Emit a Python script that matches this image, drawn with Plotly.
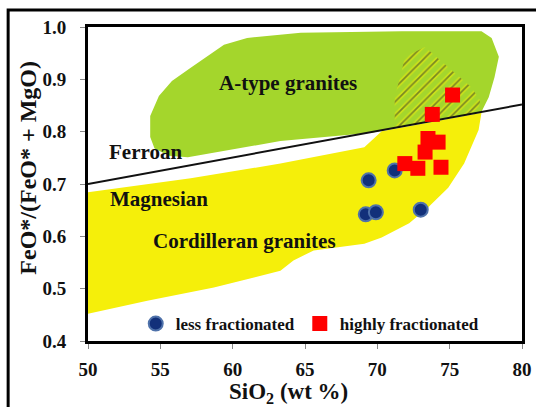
import plotly.graph_objects as go

# --- sample data: SiO2 (wt %) vs FeO*/(FeO* + MgO) ---
less_sio2 = [71.2, 69.4, 69.2, 69.9, 73.0]
less_fe = [0.726, 0.707, 0.642, 0.646, 0.651]

high_sio2 = [75.2, 73.8, 73.5, 74.2, 73.3, 71.9, 72.8, 74.4]
high_fe = [0.870, 0.833, 0.787, 0.780, 0.761, 0.739, 0.730, 0.732]

# Ferroan / magnesian boundary line
boundary_sio2 = [50, 80]
boundary_fe = [0.700, 0.852]

# A-type granite field
atype_sio2 = [54.3, 54.3, 54.9, 55.8, 57.1, 59.4, 61.0, 64.7, 71.7, 77.2, 77.9,
              78.4, 78.1, 77.7, 77.2, 69.6, 63.3, 56.9, 55.6, 54.6, 54.3]
atype_fe = [0.790, 0.830, 0.868, 0.897, 0.922, 0.966, 0.979, 0.989, 0.992, 0.992,
            0.979, 0.943, 0.904, 0.866, 0.838, 0.798, 0.782, 0.751, 0.754, 0.768, 0.790]

# Cordilleran granite field
cord_sio2 = [50.0, 57.1, 63.3, 69.1, 70.3, 77.2, 77.0, 76.0, 74.9, 73.5, 72.2,
             70.3, 69.1, 65.6, 64.2, 63.3, 58.7, 54.1, 50.0, 50.0]
cord_fe = [0.684, 0.711, 0.739, 0.770, 0.801, 0.836, 0.803, 0.739, 0.693, 0.655,
           0.625, 0.598, 0.586, 0.573, 0.554, 0.534, 0.502, 0.477, 0.452, 0.684]

# overlap (hatched) field
hatch_sio2 = [71.9, 73.3, 74.9, 76.5, 77.1, 77.0, 71.2, 71.2, 71.7, 71.9]
hatch_fe = [0.943, 0.962, 0.923, 0.885, 0.860, 0.835, 0.808, 0.866, 0.918, 0.943]

# field labels
label_text = ["A-type granites", "Ferroan", "Magnesian", "Cordilleran granites"]
label_sio2 = [63.8, 54.0, 54.9, 60.8]
label_fe = [0.893, 0.762, 0.672, 0.592]

x_ticks = [50, 55, 60, 65, 70, 75, 80]
y_ticks = [0.4, 0.5, 0.6, 0.7, 0.8, 0.9, 1.0]

SERIF = "Liberation Serif"
INK = "#111111"
GREEN = "#a4d62c"
YELLOW = "#f5ef0a"

fig = go.Figure()

fig.add_trace(go.Scatter(x=cord_sio2, y=cord_fe, mode="lines", fill="toself",
                         fillcolor=YELLOW, line=dict(width=0, color=YELLOW),
                         hoverinfo="skip", showlegend=False))
fig.add_trace(go.Scatter(x=atype_sio2, y=atype_fe, mode="lines", fill="toself",
                         fillcolor=GREEN, line=dict(width=0, color=GREEN),
                         hoverinfo="skip", showlegend=False))
# hatched overlap: wide yellow stripes, then thin dark stripes
fig.add_trace(go.Scatter(x=hatch_sio2, y=hatch_fe, mode="lines", fill="toself",
                         fillcolor="rgba(0,0,0,0)", line=dict(width=0),
                         fillpattern=dict(shape="/", size=10, solidity=0.5,
                                          fgcolor=YELLOW, bgcolor="rgba(0,0,0,0)"),
                         hoverinfo="skip", showlegend=False))
fig.add_trace(go.Scatter(x=hatch_sio2, y=hatch_fe, mode="lines", fill="toself",
                         fillcolor="rgba(0,0,0,0)", line=dict(width=0),
                         fillpattern=dict(shape="/", size=10, solidity=0.17,
                                          fgcolor="#2a2a2a", bgcolor="rgba(0,0,0,0)"),
                         hoverinfo="skip", showlegend=False))

fig.add_trace(go.Scatter(x=boundary_sio2, y=boundary_fe, mode="lines",
                         line=dict(color="#111111", width=2),
                         hoverinfo="skip", showlegend=False))

fig.add_trace(go.Scatter(x=less_sio2, y=less_fe, mode="markers",
                         name="<b>less fractionated</b>",
                         marker=dict(symbol="circle", size=14, color="#12307a",
                                     line=dict(color="#4f72aa", width=2))))
fig.add_trace(go.Scatter(x=high_sio2, y=high_fe, mode="markers",
                         name="<b>highly fractionated</b>",
                         marker=dict(symbol="square", size=15, color="#ff0000",
                                     line=dict(width=0))))

for t, xv, yv in zip(label_text, label_sio2, label_fe):
    fig.add_annotation(x=xv, y=yv, text=f"<b>{t}</b>", showarrow=False,
                       font=dict(family=SERIF, size=21, color=INK))

# axis titles
fig.add_annotation(x=0.461, y=-0.166, xref="paper", yref="paper",
                   xanchor="center", yanchor="middle",
                   text="<b>SiO<sub>2</sub> (wt %)</b>", showarrow=False,
                   font=dict(family=SERIF, size=23, color=INK))
fig.add_annotation(x=-0.139, y=0.551, xref="paper", yref="paper",
                   xanchor="center", yanchor="middle",
                   text="<b>FeO*/(FeO* + MgO)</b>", showarrow=False, textangle=-90,
                   font=dict(family=SERIF, size=24, color=INK))

axis_common = dict(
    showgrid=False, zeroline=False, showline=True, linecolor="black",
    linewidth=3, mirror=True, ticks="outside", ticklen=5, tickwidth=1,
    tickcolor="#888888", tickfont=dict(family=SERIF, size=19, color=INK),
)

fig.update_xaxes(range=[50, 80], tickvals=x_ticks,
                 ticktext=[f"<b>{v}</b>" for v in x_ticks],
                 ticklabelstandoff=4, **axis_common)
fig.update_yaxes(range=[0.4, 1.0], tickvals=y_ticks,
                 ticktext=[f"<b>{v:.1f}</b>" for v in y_ticks],
                 ticklabelstandoff=10, **axis_common)

# outer frame around the figure
fig.add_shape(type="rect", xref="paper", yref="paper",
              x0=-0.184, x1=1.2, y0=-0.4, y1=1.054,
              line=dict(color="black", width=3), fillcolor="rgba(0,0,0,0)",
              layer="above")

fig.update_layout(
    width=536, height=407,
    margin=dict(l=88, r=14, t=27, b=66, autoexpand=False),
    paper_bgcolor="white", plot_bgcolor="white",
    font=dict(family=SERIF, color=INK),
    legend=dict(orientation="h", x=0.11, y=0.054, xanchor="left",
                yanchor="middle", bgcolor="rgba(0,0,0,0)",
                font=dict(family=SERIF, size=17, color=INK),
                itemwidth=30, tracegroupgap=0),
)

fig.write_html("out.html")
